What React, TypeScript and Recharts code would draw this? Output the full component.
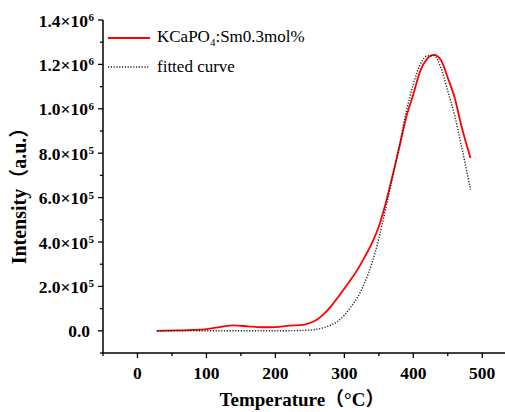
import { LineChart, Line, XAxis, YAxis, Legend } from 'recharts'

const temps = [
  28, 40, 60, 80, 100, 120, 140, 160, 180, 200, 220, 240, 250, 260, 270, 280, 290, 300,
  310, 320, 330, 340, 350, 360, 370, 380, 390, 400, 410, 420, 430, 440, 450, 460, 470, 483,
]

const sampleIntensity = [
  0, 500, 2000, 4000, 8000, 17000, 24000, 20000, 16000, 17000, 23000, 27000, 35000, 50000,
  75000, 108000, 148000, 190000, 233000, 280000, 335000, 395000, 470000, 575000, 700000,
  830000, 965000, 1065000, 1170000, 1225000, 1243000, 1220000, 1140000, 1050000, 920000, 778000,
]

const fittedIntensity = [
  0, 0, 0, 0, 0, 0, 0, 0, 0, 0, 500, 2000, 3500, 7000, 14000, 25000, 42000, 70000, 110000,
  155000, 220000, 305000, 415000, 550000, 690000, 840000, 990000, 1110000, 1200000, 1238000,
  1240000, 1185000, 1080000, 970000, 830000, 635000,
]

const xTicks = [-50, 0, 50, 100, 150, 200, 250, 300, 350, 400, 450, 500]
const yTicks = [
  -100000, 0, 100000, 200000, 300000, 400000, 500000, 600000, 700000, 800000, 900000,
  1000000, 1100000, 1200000, 1300000, 1400000,
]

const data = temps.map((t, i) => ({
  t,
  sample: sampleIntensity[i],
  fitted: fittedIntensity[i],
}))

const SERIF = "'Liberation Serif', 'Times New Roman', 'Noto Sans CJK SC', serif"

const YTick = ({ x, y, payload }: { x: number; y: number; payload: { value: number } }) => {
  const v = payload.value
  const major = Math.round(v / 100000) % 2 === 0
  const len = major ? 5 : 3
  let label = null
  if (major && v >= 0) {
    if (v === 0) {
      label = (
        <text x={x - 13} y={y + 6} textAnchor="end" fontSize={17.5} fontWeight="bold" fontFamily={SERIF} fill="#000">
          0.0
        </text>
      )
    } else {
      const exp = v >= 1000000 ? 6 : 5
      const mant = (v / Math.pow(10, exp)).toFixed(1)
      label = (
        <g fontFamily={SERIF} fontWeight="bold" fill="#000">
          <text x={x - 15} y={y + 6.5} textAnchor="end" fontSize={17.5}>
            {mant}×10
          </text>
          <text x={x - 14.5} y={y + 1} fontSize={11}>
            {exp}
          </text>
        </g>
      )
    }
  }
  return (
    <g>
      <line x1={x - len} x2={x} y1={y} y2={y} stroke="#000" strokeWidth={1.3} />
      {label}
    </g>
  )
}

const XTick = ({ x, y, payload }: { x: number; y: number; payload: { value: number } }) => {
  const v = payload.value
  const major = v % 100 === 0
  return (
    <g>
      <line x1={x} x2={x} y1={y} y2={y + (major ? 5 : 3)} stroke="#000" strokeWidth={1.3} />
      {major && (
        <text x={x} y={y + 26} textAnchor="middle" fontSize={17.5} fontWeight="bold" fontFamily={SERIF} fill="#000">
          {v}
        </text>
      )}
    </g>
  )
}

const LegendBox = () => (
  <div style={{ fontFamily: SERIF, fontSize: 17, color: '#000', lineHeight: 1 }}>
    <div style={{ display: 'flex', alignItems: 'center', height: 28.5 }}>
      <svg width={42} height={4} style={{ marginRight: 7 }}>
        <line x1={0} x2={42} y1={2} y2={2} stroke="#ff0000" strokeWidth={1.8} />
      </svg>
      <span style={{ whiteSpace: 'nowrap' }}>
        KCaPO<sub style={{ fontSize: 11, verticalAlign: -4 }}>4</sub>:Sm0.3mol%
      </span>
    </div>
    <div style={{ display: 'flex', alignItems: 'center', height: 28.5 }}>
      <svg width={42} height={4} style={{ marginRight: 7 }}>
        <line x1={0} x2={42} y1={2} y2={2} stroke="#222" strokeWidth={1.4} strokeDasharray="1.2 1.6" />
      </svg>
      <span style={{ whiteSpace: 'nowrap' }}>fitted curve</span>
    </div>
  </div>
)

export default function App() {
  return (
    <div style={{ position: 'absolute', left: 0, top: 0, width: 505, height: 412, background: '#fff' }}>
      <LineChart width={505} height={412} data={data} margin={{ top: 20, right: 0, bottom: 0, left: 0 }}>
        <XAxis
          xAxisId="x"
          dataKey="t"
          type="number"
          domain={[-50, 533]}
          ticks={xTicks}
          interval={0}
          height={59}
          tickSize={0}
          tickMargin={0}
          tickLine={false}
          axisLine={{ stroke: '#000', strokeWidth: 1.5 }}
          tick={XTick}
          label={({ viewBox }: { viewBox: { x: number; y: number; width: number } }) => (
            <text
              x={302}
              y={viewBox.y + 53}
              textAnchor="middle"
              fontSize={19}
              fontWeight="bold"
              fontFamily={SERIF}
              fill="#000"
            >
              Temperature（°C）
            </text>
          )}
        />
        <XAxis
          xAxisId="top"
          orientation="top"
          dataKey="t"
          type="number"
          domain={[-50, 533]}
          height={0}
          tick={false}
          tickLine={false}
          axisLine={{ stroke: '#000', strokeWidth: 1.5 }}
        />
        <YAxis
          type="number"
          domain={[-100000, 1400000]}
          ticks={yTicks}
          interval={0}
          width={103}
          tickSize={0}
          tickMargin={0}
          tickLine={false}
          axisLine={{ stroke: '#000', strokeWidth: 1.5 }}
          tick={YTick}
          label={() => (
            <text
              x={19}
              y={191}
              transform="rotate(-90, 19, 191)"
              textAnchor="middle"
              dominantBaseline="central"
              fontSize={20}
              fontWeight="bold"
              fontFamily={SERIF}
              fill="#000"
            >
              Intensity（a.u.）
            </text>
          )}
        />
        <Legend
          layout="vertical"
          align="center"
          verticalAlign="middle"
          content={<LegendBox />}
          wrapperStyle={{ left: 108, top: 24, width: 'auto', height: 'auto' }}
        />
        <Line
          xAxisId="x"
          dataKey="sample"
          type="monotone"
          stroke="#ff0000"
          strokeWidth={1.8}
          dot={false}
          isAnimationActive={false}
        />
        <Line
          xAxisId="x"
          dataKey="fitted"
          type="monotone"
          stroke="#222"
          strokeWidth={1.4}
          strokeDasharray="1.2 1.6"
          dot={false}
          isAnimationActive={false}
        />
      </LineChart>
    </div>
  )
}
